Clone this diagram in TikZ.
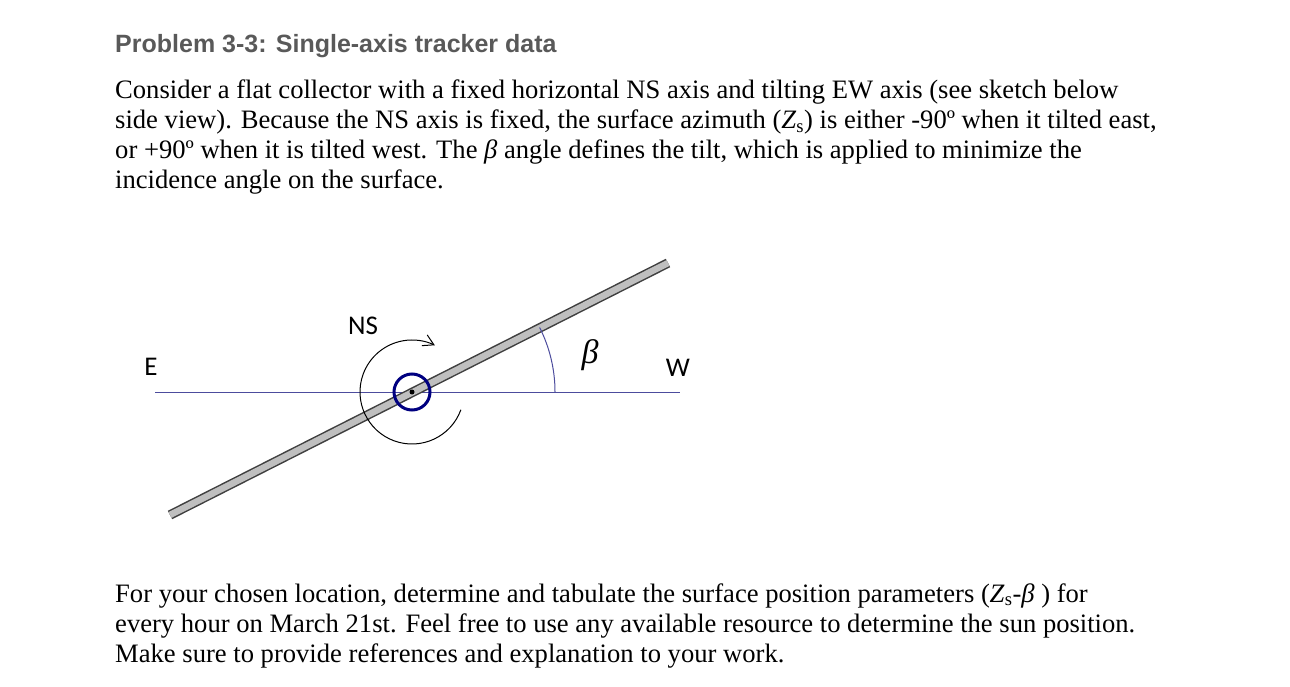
\documentclass[tikz,border=0pt]{standalone}
\usepackage{fontspec}
\setmainfont{Liberation Serif}
\newfontfamily\headfont{Liberation Sans}
\newfontfamily\labelfont{Carlito}
\usetikzlibrary{arrows.meta}
\tikzset{
  txt/.style={anchor=base west,inner sep=0pt,font=\fontsize{26.6}{30}\selectfont},
  lbl/.style={inner sep=0pt,font=\labelfont\fontsize{27}{30}\selectfont}
}
\begin{document}
\begin{tikzpicture}[x=1pt,y=-1pt]
\useasboundingbox (0,0) rectangle (1290,687);

%%% TEXT %%%
\node [anchor=base west,inner sep=0pt,text=black!65,font=\headfont\bfseries\fontsize{25}{30}\selectfont] at (115,53) (title) {Problem 3-3: Single-axis tracker data};
\node [txt] at (115,99) (l1) {Consider a flat collector with a fixed horizontal NS axis and tilting EW axis (see sketch below};
\node [txt] at (115,129) (l2) {side view). Because the NS axis is fixed, the surface azimuth (\textit{Z}\textsubscript{s}) is either -90º when it tilted east,};
\node [txt] at (115,159) (l3) {or +90º when it is tilted west. The \textit{β} angle defines the tilt, which is applied to minimize the};
\node [txt] at (115,189) (l4) {incidence angle on the surface.};
\node [txt] at (115,602) (m1) {For your chosen location, determine and tabulate the surface position parameters (\textit{Z}\textsubscript{s}-\textit{β} ) for};
\node [txt] at (115,632) (m2) {every hour on March 21st. Feel free to use any available resource to determine the sun position.};
\node [txt] at (115,662) (m3) {Make sure to provide references and explanation to your work.};

%%% SKETCH %%%
\coordinate (c) at (412,392);
\coordinate (e_end) at (155,392);
\coordinate (w_end) at (680,392);
\draw [color=blue!45!black!70,line width=1pt] (e_end) -- (w_end);
\draw [line width=9.5pt,black!75] (170,515) -- (668,263);
\draw [line width=6.5pt,black!25] (170,515) -- (668,263);
\draw [blue!50!black,line width=3pt] (c) circle (18);
\fill (c) circle (2.5);
\draw [line width=1pt,-{Straight Barb[angle=60:12pt]}] (c) ++(20:52) arc (20:296:52);
\draw [color=blue!45!black!70,line width=1pt] (c) ++(0:143) arc (0:-26.8:143);

\node [lbl] at (151,367) (E) {E};
\node [lbl] at (678,368) (W) {W};
\node [lbl] at (363,326) (NS) {NS};
\node [inner sep=0pt,font=\fontsize{34}{34}\selectfont] at (590,355) (beta) {\textit{β}};
\end{tikzpicture}
\end{document}
